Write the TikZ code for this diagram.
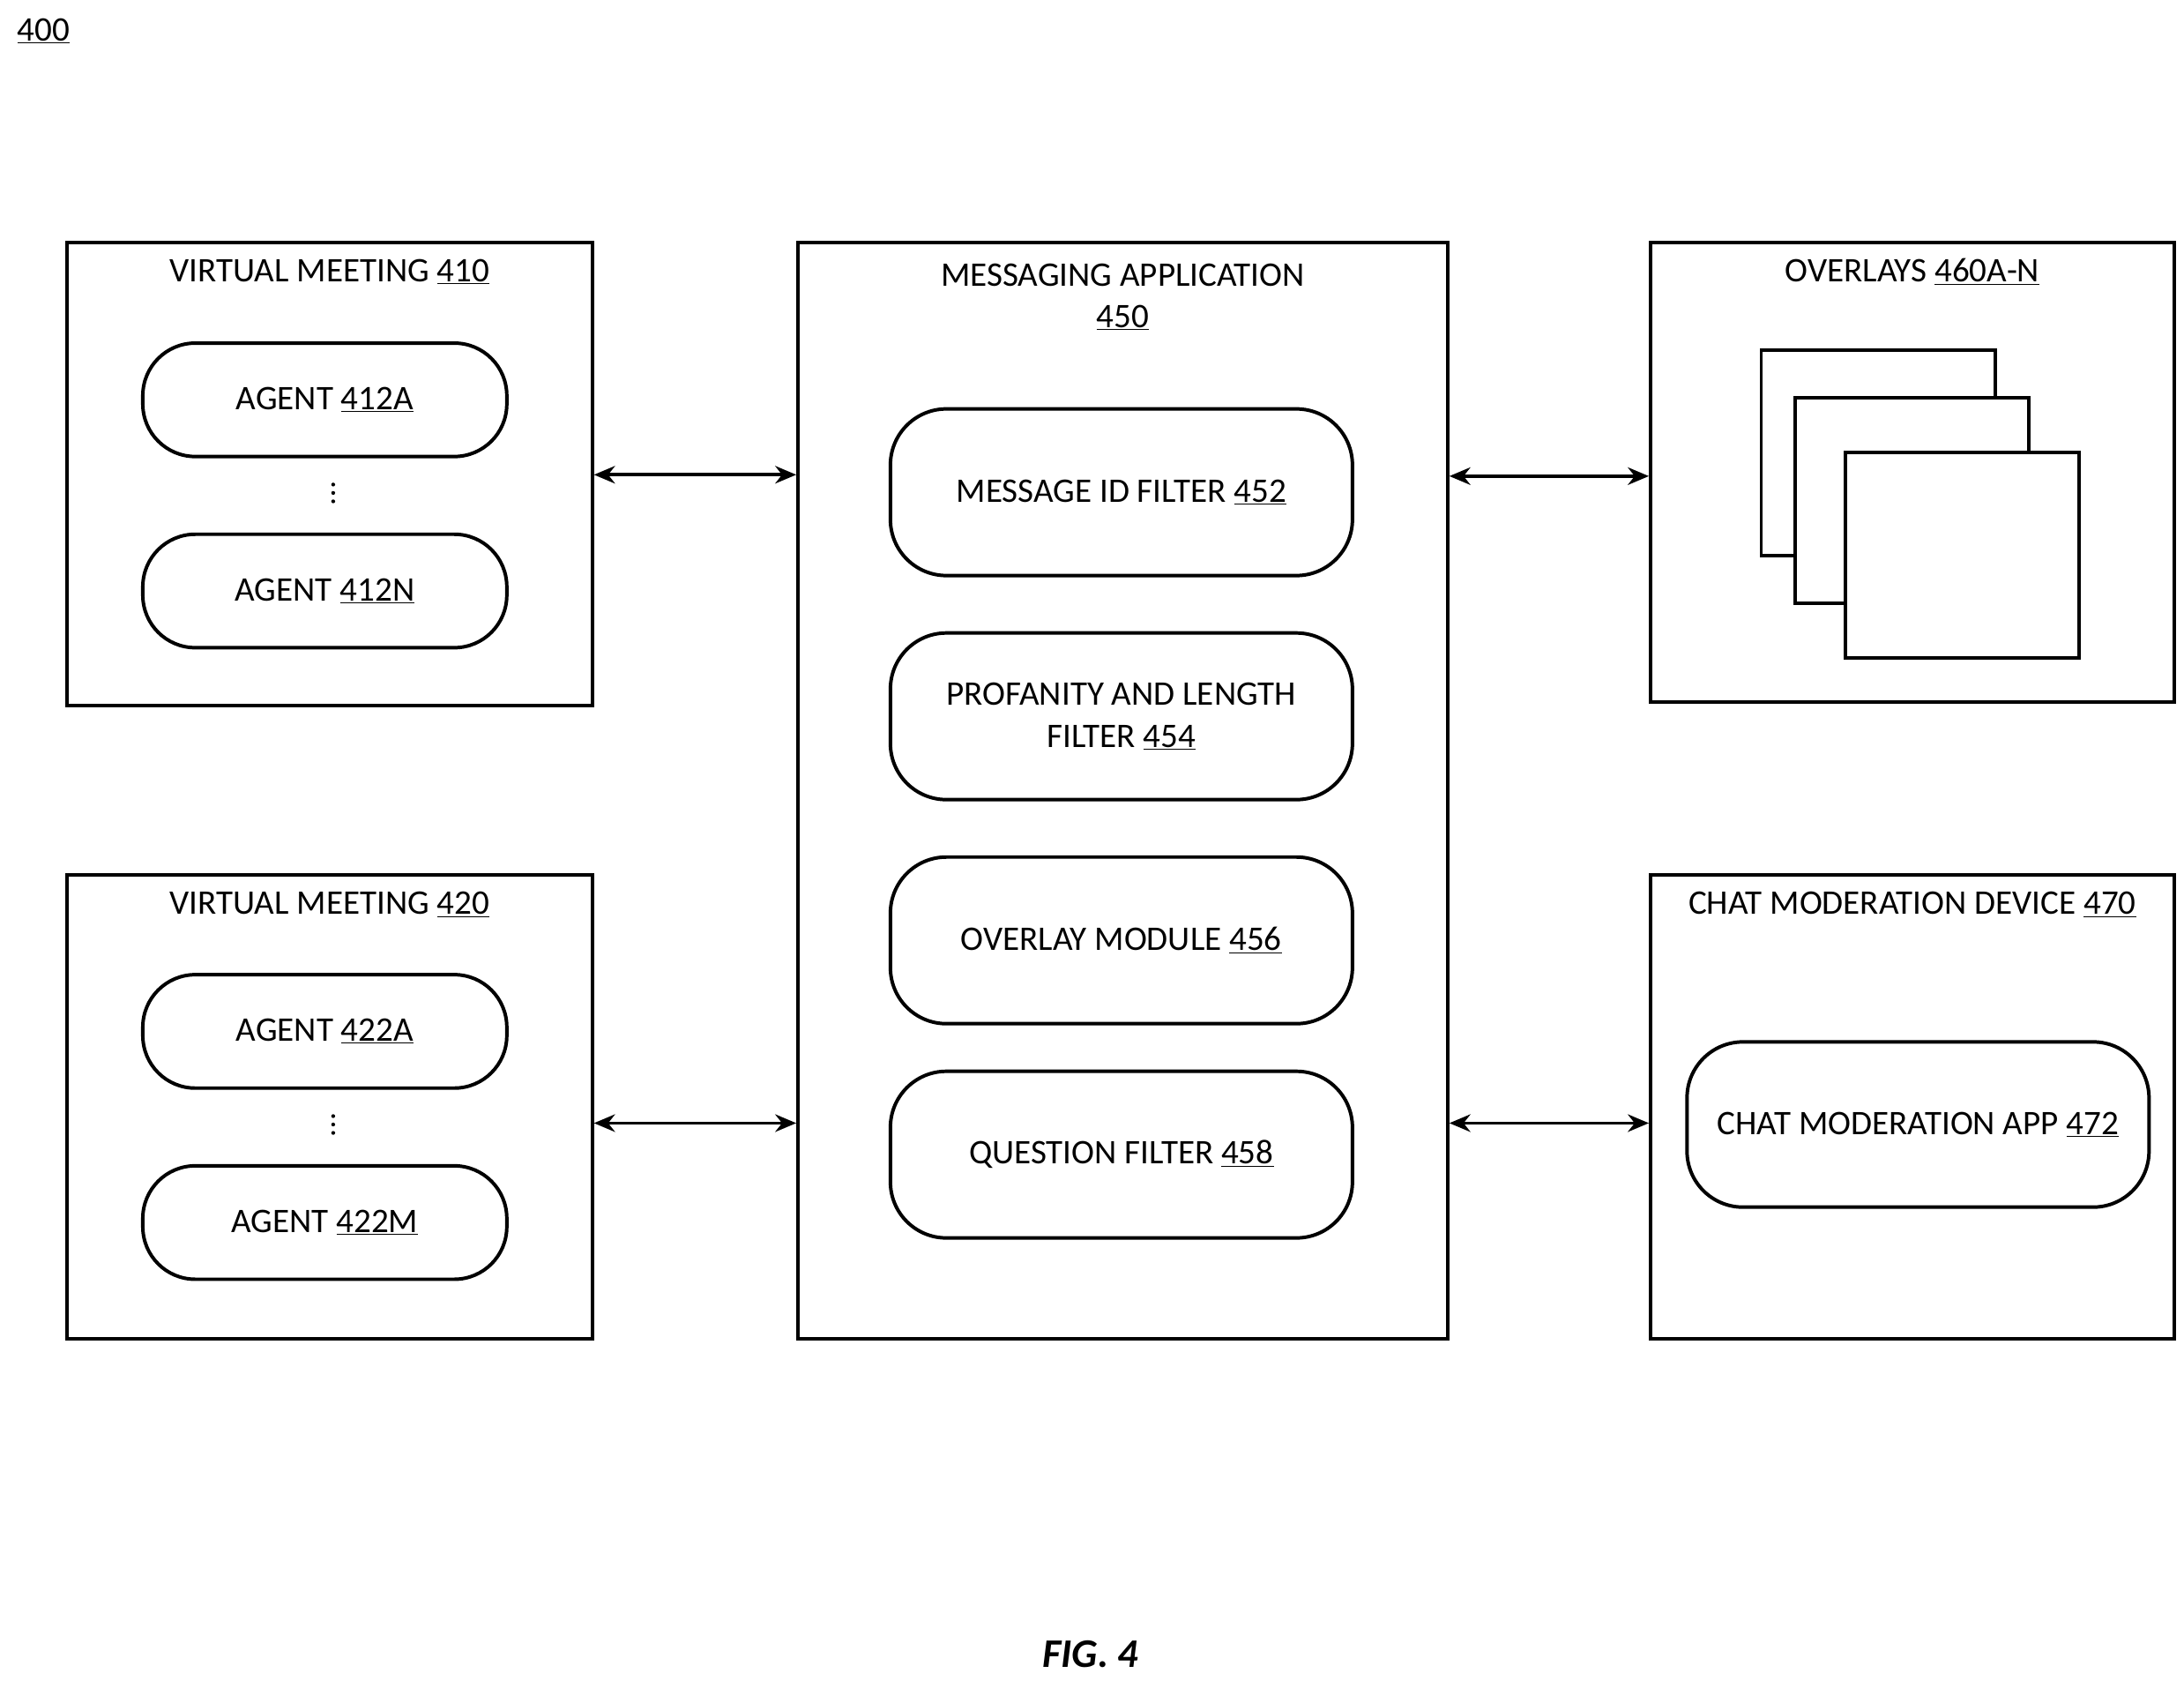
\documentclass[tikz,border=0pt]{standalone}
\usepackage{fontspec}
\setmainfont{Carlito}
\usetikzlibrary{arrows.meta}
\begin{document}
\begin{tikzpicture}[x=0.4mm,y=-0.4mm,
  every node/.style={font=\fontsize{28}{34}\selectfont, align=center},
  box/.style={draw, line width=1mm, inner sep=0},
  pill/.style={draw, line width=1mm, rounded corners=15mm, inner sep=0, minimum width=104mm, minimum height=32.4mm},
  filt/.style={draw, line width=1mm, rounded corners=16mm, inner sep=0, minimum width=132mm, minimum height=47.6mm},
  dot/.style={circle, fill, inner sep=0, minimum size=1.1mm},
  arr/.style={line width=0.9mm, {Stealth[length=6mm,width=5mm]}-{Stealth[length=6mm,width=5mm]}}]
\useasboundingbox (0,0) rectangle (1560,1200);
\node (lbl) at (31,22) {\underline{400}};
% left boxes
\node[box, minimum width=150mm, minimum height=132.4mm] (vm1) at (235.5,338.5) {};
\node (vm1t) at (235.5,194) {VIRTUAL MEETING \underline{410}};
\node[pill] (a1) at (232,285.5) {AGENT \underline{412A}};
\foreach \y in {346,352,358} \node[dot] at (238,\y) {};
\node[pill] (a2) at (232,422) {AGENT \underline{412N}};
\node[box, minimum width=150mm, minimum height=132.4mm] (vm2) at (235.5,790.5) {};
\node (vm2t) at (235.5,646) {VIRTUAL MEETING \underline{420}};
\node[pill] (a3) at (232,736.5) {AGENT \underline{422A}};
\foreach \y in {797,803,809} \node[dot] at (238,\y) {};
\node[pill] (a4) at (232,873) {AGENT \underline{422M}};
% messaging
\node[box, minimum width=185.6mm, minimum height=313.2mm] (msg) at (802,564.5) {};
\node (msgt) at (802,212) {MESSAGING APPLICATION\\\underline{450}};
\node[filt] (f1) at (801,351.5) {MESSAGE ID FILTER \underline{452}};
\node[filt] (f2) at (801,511.5) {PROFANITY AND LENGTH\\FILTER \underline{454}};
\node[filt] (f3) at (801,671.5) {OVERLAY MODULE \underline{456}};
\node[filt] (f4) at (801,824.5) {QUESTION FILTER \underline{458}};
% overlays
\node[box, minimum width=149.6mm, minimum height=131.2mm] (ov) at (1366,337) {};
\node (ovt) at (1366,194) {OVERLAYS \underline{460A-N}};
\node[box, fill=white, minimum width=66.8mm, minimum height=58.8mm] (p1) at (1341.5,323.5) {};
\node[box, fill=white, minimum width=66.8mm, minimum height=58.8mm] (p2) at (1365.5,357.5) {};
\node[box, fill=white, minimum width=66.8mm, minimum height=58.8mm] (p3) at (1401.5,396.5) {};
% chat
\node[box, minimum width=149.6mm, minimum height=132.4mm] (cm) at (1366,790.5) {};
\node (cmt) at (1366,646) {CHAT MODERATION DEVICE \underline{470}};
\node[filt, minimum height=47.2mm] (app) at (1370,803) {CHAT MODERATION APP \underline{472}};
% arrows
\draw[arr] (vm1.east |- 0,339) -- (msg.west |- 0,339);
\draw[arr] (vm2.east |- 0,802) -- (msg.west |- 0,802);
\draw[arr] (msg.east |- 0,340) -- (ov.west |- 0,340);
\draw[arr] (msg.east |- 0,802) -- (cm.west |- 0,802);
\node[font=\fontsize{33}{40}\selectfont\bfseries\itshape] (fig) at (779,1181) {FIG. 4};
\end{tikzpicture}
\end{document}
